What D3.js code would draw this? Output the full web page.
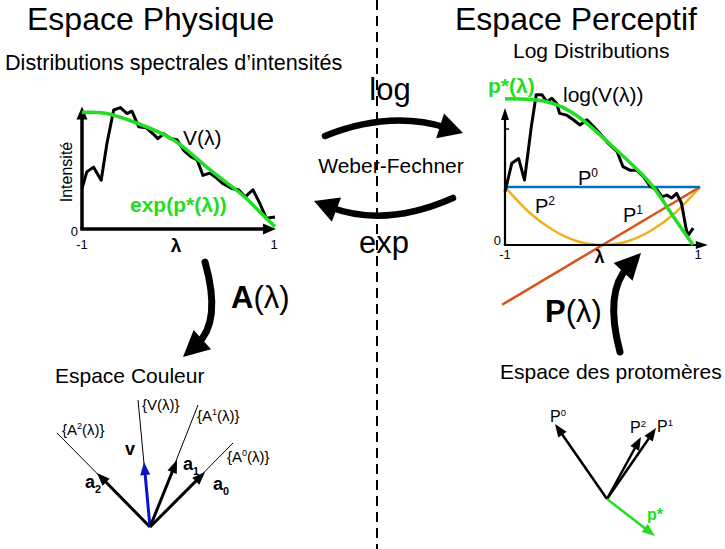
<!DOCTYPE html>
<html>
<head>
<meta charset="utf-8">
<script src="https://cdn.jsdelivr.net/npm/d3@7"></script>
<style>
  body { margin: 0; background: #fff; }
  svg { display: block; font-family: "Liberation Sans", Arial, sans-serif; }
</style>
</head>
<body>
<div id="chart-area"></div>
<script>
// ---- data ----
// left panel: intensity spectrum V(lambda) and its fit exp(p*(lambda))
const vLambda = [-1.00, -0.95, -0.88, -0.80, -0.74, -0.67, -0.60, -0.53, -0.48, -0.41, -0.33, -0.26, -0.21, -0.15, -0.08, -0.01,
                 0.06, 0.13, 0.20, 0.26, 0.33, 0.40, 0.47, 0.56, 0.63, 0.70, 0.78, 0.85, 0.92, 1.01];
const vIntensity = [0.34, 0.48, 0.52, 0.41, 0.72, 1.00, 1.02, 0.97, 0.99, 0.86, 0.85, 0.80, 0.76, 0.80, 0.76, 0.75,
                    0.66, 0.61, 0.58, 0.45, 0.47, 0.43, 0.38, 0.34, 0.33, 0.27, 0.33, 0.22, 0.09, 0.10];
const expLambda = [-1.00, -0.74, -0.43, -0.05, 0.30, 0.65, 0.82, 1.01];
const expValues = [0.98, 0.97, 0.89, 0.75, 0.52, 0.30, 0.17, 0.02];

// right panel: log spectrum, fit p*, and the protomer basis P0, P1, P2
const logLambda = [-1.00, -0.93, -0.86, -0.80, -0.73, -0.68, -0.62, -0.57, -0.52, -0.47, -0.44, -0.37, -0.30, -0.23, -0.16, -0.09, -0.03,
                   0.06, 0.15, 0.21, 0.28, 0.35, 0.42, 0.49, 0.56, 0.61, 0.66, 0.71, 0.76, 0.81, 0.86, 0.88, 0.93];
const logValues = [0.92, 1.41, 1.49, 1.12, 2.04, 2.59, 2.59, 2.47, 2.53, 2.44, 2.27, 2.24, 2.16, 2.07, 2.16, 2.04, 1.93,
                   1.75, 1.61, 1.35, 1.29, 1.29, 1.18, 1.01, 0.95, 0.83, 0.86, 0.81, 0.89, 0.72, 0.26, 0.17, 0.29];
const pStarLambda = [-1.00, -0.57, -0.23, 0.11, 0.46, 0.66, 0.80, 0.93];
const pStarValues = [2.52, 2.47, 2.19, 1.69, 1.12, 0.66, 0.31, 0.00];
const p0Lambda = [-1, 1];
const p0Values = [1, 1];
const p1Lambda = [-1.03, 1];
const p1Values = [-1.03, 1];
const p2Lambda = [-1, -0.75, -0.5, -0.25, 0, 0.25, 0.5, 0.75, 1];
const p2Values = [1, 0.56, 0.25, 0.06, 0, 0.06, 0.25, 0.56, 1];

// colour space vectors
const colourNames = ["A", "V", "A", "A"];
const colourSup = ["2", "", "1", "0"];
const colourAxisX = [-0.93, -0.12, 0.48, 0.83];
const colourAxisY = [0.94, 1.27, 1.22, 0.84];
const colourVecX = [-0.53, -0.06, 0.27, 0.55];
const colourVecY = [0.54, 0.65, 0.67, 0.55];
const colourVecLabel = ["a", "v", "a", "a"];
const colourVecSub = ["2", "", "1", "0"];

// protomer space vectors
const protoNames = ["P", "P", "P", "p*"];
const protoSup = ["0", "2", "1", ""];
const protoX = [-0.52, 0.34, 0.49, 0.48];
const protoY = [0.75, 0.62, 0.71, -0.37];

const green = "#22dd22";
const black = "#000";

let svg = d3.select("#chart-area").append("svg")
    .attr("width", 725)
    .attr("height", 549);

// helpers
function arrowHead(g, x1, y1, x2, y2, len, w, color) {
    const a = Math.atan2(y2 - y1, x2 - x1);
    const bx = x2 - len * Math.cos(a), by = y2 - len * Math.sin(a);
    const px = -Math.sin(a) * w / 2, py = Math.cos(a) * w / 2;
    g.append("path")
        .attr("d", `M${x2},${y2}L${bx + px},${by + py}L${bx - px},${by - py}Z`)
        .attr("fill", color);
    return [bx + 0.3 * len * Math.cos(a), by + 0.3 * len * Math.sin(a)];
}

function curvedArrow(s, c, t, len, w, sw) {
    const a = Math.atan2(t[1] - c[1], t[0] - c[0]);
    const end = [t[0] - 0.7 * len * Math.cos(a), t[1] - 0.7 * len * Math.sin(a)];
    svg.append("path")
        .attr("d", `M${s[0]},${s[1]}Q${c[0]},${c[1]} ${end[0]},${end[1]}`)
        .attr("fill", "none").attr("stroke", black)
        .attr("stroke-width", sw).attr("stroke-linecap", "round");
    arrowHead(svg, c[0], c[1], t[0], t[1], len, w, black);
}

function richText(g, x, y, parts, size, attrs) {
    const t = g.append("text").attr("x", x).attr("y", y).attr("font-size", size);
    for (const k in attrs) t.attr(k, attrs[k]);
    let shift = 0;
    parts.forEach(function (p) {
        const txt = typeof p === "string" ? p : p[0];
        const kind = typeof p === "string" ? "" : p[1];
        const target = kind === "sup" ? -size * 0.4 : kind === "sub" ? size * 0.25 : 0;
        t.append("tspan")
            .attr("dy", target - shift)
            .attr("font-size", kind ? size * 0.6 : size)
            .text(txt);
        shift = target;
    });
    return t;
}

function axisArrows(xScale, yScale, xMax, yMax, sw, hl, hw) {
    const x0 = xScale(-1), y0 = yScale(0);
    const tipY = yScale(yMax), tipX = xScale(xMax);
    svg.append("line").attr("x1", x0).attr("y1", y0).attr("x2", x0).attr("y2", tipY + hl * 0.7)
        .attr("stroke", black).attr("stroke-width", sw);
    arrowHead(svg, x0, y0, x0, tipY, hl, hw, black);
    svg.append("line").attr("x1", x0 - sw / 2).attr("y1", y0).attr("x2", tipX - hl * 0.7).attr("y2", y0)
        .attr("stroke", black).attr("stroke-width", sw);
    arrowHead(svg, x0, y0, tipX, y0, hl, hw, black);
}

// ---- dashed divider ----
svg.append("line")
    .attr("x1", 377).attr("x2", 377).attr("y1", 0).attr("y2", 549)
    .attr("stroke", black).attr("stroke-width", 2)
    .attr("stroke-dasharray", "10,6");

// ---- titles ----
svg.append("text").attr("x", 27).attr("y", 30).attr("font-size", 32).text("Espace Physique");
svg.append("text").attr("x", 455).attr("y", 30).attr("font-size", 32).text("Espace Perceptif");
svg.append("text").attr("x", 5).attr("y", 70).attr("font-size", 21.6).text("Distributions spectrales d’intensités");
svg.append("text").attr("x", 513).attr("y", 58).attr("font-size", 21).text("Log Distributions");

// ---- left panel ----
const xL = d3.scaleLinear().domain([-1, 1]).range([82, 274]);
const yL = d3.scaleLinear().domain([0, 1]).range([229, 110]);

axisArrows(xL, yL, 1.02, 1.03, 3.5, 13, 11);

svg.append("path")
    .datum(d3.zip(vLambda, vIntensity))
    .attr("d", d3.line().x(d => xL(d[0])).y(d => yL(d[1])))
    .attr("fill", "none").attr("stroke", black).attr("stroke-width", 3)
    .attr("stroke-linejoin", "round");

svg.append("path")
    .datum(d3.zip(expLambda, expValues))
    .attr("d", d3.line().curve(d3.curveNatural).x(d => xL(d[0])).y(d => yL(d[1])))
    .attr("fill", "none").attr("stroke", green).attr("stroke-width", 3.5);

svg.append("text").attr("transform", "translate(72,172) rotate(-90)")
    .attr("text-anchor", "middle").attr("font-size", 16).text("Intensité");
svg.append("text").attr("x", 78).attr("y", 236).attr("text-anchor", "end").attr("font-size", 13).text("0");
svg.append("text").attr("x", xL(-1)).attr("y", 249).attr("text-anchor", "middle").attr("font-size", 13).text("-1");
svg.append("text").attr("x", xL(1)).attr("y", 249).attr("text-anchor", "middle").attr("font-size", 13).text("1");
svg.append("text").attr("x", 176).attr("y", 252).attr("text-anchor", "middle")
    .attr("font-size", 19).attr("font-weight", "bold").text("λ");
svg.append("text").attr("x", 183).attr("y", 145).attr("font-size", 21).text("V(λ)");
svg.append("text").attr("x", 130).attr("y", 212).attr("font-size", 21)
    .attr("font-weight", "bold").attr("fill", green).text("exp(p*(λ))");

// ---- right panel ----
const xR = d3.scaleLinear().domain([-1, 1]).range([505, 700]);
const yR = d3.scaleLinear().domain([0, 1]).range([245, 187]);

svg.append("line").attr("x1", xR(-1)).attr("x2", xR(-1) + 4).attr("y1", yR(2)).attr("y2", yR(2))
    .attr("stroke", black).attr("stroke-width", 1.5);

const lineR = d3.line().x(d => xR(d[0])).y(d => yR(d[1]));
svg.append("path").datum(d3.zip(p2Lambda, p2Values))
    .attr("d", lineR.curve(d3.curveNatural))
    .attr("fill", "none").attr("stroke", "#EDB120").attr("stroke-width", 2.5);
svg.append("path").datum(d3.zip(p1Lambda, p1Values))
    .attr("d", d3.line().x(d => xR(d[0])).y(d => yR(d[1])))
    .attr("fill", "none").attr("stroke", "#D95319").attr("stroke-width", 2.5);
svg.append("path").datum(d3.zip(p0Lambda, p0Values))
    .attr("d", d3.line().x(d => xR(d[0])).y(d => yR(d[1])))
    .attr("fill", "none").attr("stroke", "#0072BD").attr("stroke-width", 2.5);

axisArrows(xR, yR, 1.08, 2.36, 2.2, 12, 8);

svg.append("path").datum(d3.zip(logLambda, logValues))
    .attr("d", d3.line().x(d => xR(d[0])).y(d => yR(d[1])))
    .attr("fill", "none").attr("stroke", black).attr("stroke-width", 3)
    .attr("stroke-linejoin", "round");
svg.append("path").datum(d3.zip(pStarLambda, pStarValues))
    .attr("d", d3.line().curve(d3.curveNatural).x(d => xR(d[0])).y(d => yR(d[1])))
    .attr("fill", "none").attr("stroke", green).attr("stroke-width", 3.5);

svg.append("text").attr("x", 488).attr("y", 93).attr("font-size", 21)
    .attr("font-weight", "bold").attr("fill", green).text("p*(λ)");
svg.append("text").attr("x", 563).attr("y", 102).attr("font-size", 21).text("log(V(λ))");
richText(svg, 578, 185, ["P", ["0", "sup"]], 20);
richText(svg, 535, 213, ["P", ["2", "sup"]], 20);
richText(svg, 623, 222, ["P", ["1", "sup"]], 20);
svg.append("text").attr("x", 501).attr("y", 245).attr("text-anchor", "end").attr("font-size", 13).text("0");
svg.append("text").attr("x", xR(-1)).attr("y", 259).attr("text-anchor", "middle").attr("font-size", 13).text("-1");
svg.append("text").attr("x", xR(1) - 2).attr("y", 259).attr("text-anchor", "middle").attr("font-size", 13).text("1");
svg.append("text").attr("x", xR(0) - 3).attr("y", 263).attr("text-anchor", "middle")
    .attr("font-size", 18).attr("font-weight", "bold").text("λ");

// ---- middle arrows ----
svg.append("text").attr("x", 390).attr("y", 100).attr("text-anchor", "middle").attr("font-size", 31).text("log");
curvedArrow([325, 136], [390, 110], [463, 133], 24, 26, 6.5);
svg.append("text").attr("x", 391).attr("y", 173).attr("text-anchor", "middle").attr("font-size", 21).text("Weber-Fechner");
curvedArrow([453, 198], [385, 228], [314, 201], 24, 26, 6.5);
svg.append("text").attr("x", 384).attr("y", 253).attr("text-anchor", "middle").attr("font-size", 31).text("exp");

curvedArrow([205, 262], [222, 322], [183, 357], 26, 26, 7);
richText(svg, 231, 308, [["A", ""], "(λ)"], 31).select("tspan").attr("font-weight", "bold");
curvedArrow([620, 352], [604, 292], [641, 253], 26, 26, 7);
richText(svg, 545, 322, [["P", ""], "(λ)"], 31).select("tspan").attr("font-weight", "bold");

// ---- colour space ----
svg.append("text").attr("x", 55).attr("y", 383).attr("font-size", 21).text("Espace Couleur");
const xC = d3.scaleLinear().domain([-1, 1]).range([50, 250]);
const yC = d3.scaleLinear().domain([0, 1]).range([527, 427]);
const gC = svg.append("g");
colourNames.forEach(function (n, i) {
    gC.append("line").attr("x1", xC(0)).attr("y1", yC(0))
        .attr("x2", xC(colourAxisX[i])).attr("y2", yC(colourAxisY[i]))
        .attr("stroke", black).attr("stroke-width", 1);
    const col = n === "V" ? "#0a14c8" : black;
    const tx = xC(colourVecX[i]), ty = yC(colourVecY[i]);
    const base = arrowHead(gC, xC(0), yC(0), tx, ty, 13, 10, col);
    gC.append("line").attr("x1", xC(0)).attr("y1", yC(0)).attr("x2", base[0]).attr("y2", base[1])
        .attr("stroke", col).attr("stroke-width", 3);
});
const colourLabelPos = [[62, 435], [142, 410], [197, 421], [227, 462]];
const colourVecPos = [[85, 488], [125, 455], [183, 470], [213, 490]];
colourNames.forEach(function (n, i) {
    const parts = colourSup[i] ? ["{" + n, [colourSup[i], "sup"], "(λ)}"] : ["{" + n + "(λ)}"];
    richText(gC, colourLabelPos[i][0], colourLabelPos[i][1], parts, 15);
    const vp = colourVecSub[i] ? [colourVecLabel[i], [colourVecSub[i], "sub"]] : [colourVecLabel[i]];
    richText(gC, colourVecPos[i][0], colourVecPos[i][1], vp, 18, { "font-weight": "bold" });
});

// ---- protomer space ----
svg.append("text").attr("x", 500).attr("y", 379).attr("font-size", 21).text("Espace des protomères");
const xP = d3.scaleLinear().domain([-1, 1]).range([507, 707]);
const yP = d3.scaleLinear().domain([0, 1]).range([499, 399]);
const gP = svg.append("g");
const protoLabelPos = [[550, 422], [630, 433], [657, 432], [647, 520]];
protoNames.forEach(function (n, i) {
    const col = n === "p*" ? green : black;
    const tx = xP(protoX[i]), ty = yP(protoY[i]);
    const base = arrowHead(gP, xP(0), yP(0), tx, ty, 13, 10, col);
    gP.append("line").attr("x1", xP(0)).attr("y1", yP(0)).attr("x2", base[0]).attr("y2", base[1])
        .attr("stroke", col).attr("stroke-width", 2.5);
    const parts = protoSup[i] ? [n, [protoSup[i], "sup"]] : [n];
    const t = richText(gP, protoLabelPos[i][0], protoLabelPos[i][1], parts, 16);
    if (n === "p*") t.attr("fill", green).attr("font-weight", "bold");
});
</script>
</body>
</html>
